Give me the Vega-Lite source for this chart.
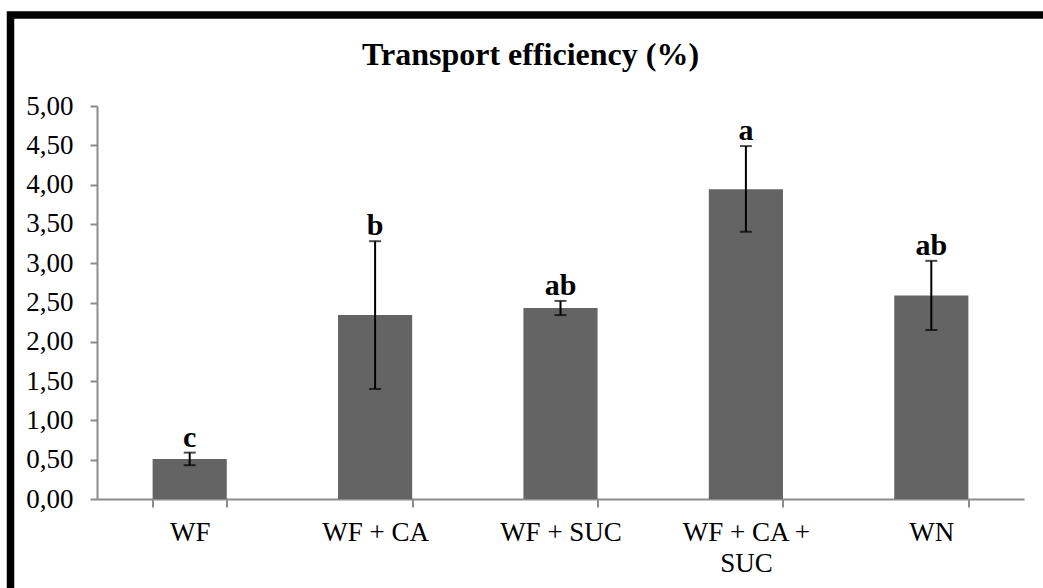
{
  "$schema": "https://vega.github.io/schema/vega-lite/v6.json",
  "width": 1040,
  "height": 580,
  "autosize": "none",
  "padding": {"left": 10.5, "top": 15, "right": 0, "bottom": 0},
  "background": "white",
  "config": {
    "view": {"stroke": "black", "strokeWidth": 7.5},
    "font": "Liberation Serif"
  },
  "title": {
    "text": "Transport efficiency (%)",
    "font": "Liberation Serif",
    "fontSize": 32,
    "fontWeight": "bold",
    "color": "black",
    "anchor": "middle",
    "frame": "group",
    "baseline": "alphabetic",
    "offset": -82
  },
  "data": {
    "values": [
      {"treatment": "WF", "mean": 0.51, "lo": 0.43, "hi": 0.59, "letter": "c"},
      {"treatment": "WF + CA", "mean": 2.34, "lo": 1.40, "hi": 3.28, "letter": "b"},
      {"treatment": "WF + SUC", "mean": 2.43, "lo": 2.34, "hi": 2.52, "letter": "ab"},
      {"treatment": "WF + CA + SUC", "mean": 3.94, "lo": 3.40, "hi": 4.49, "letter": "a"},
      {"treatment": "WN", "mean": 2.59, "lo": 2.15, "hi": 3.03, "letter": "ab"}
    ]
  },
  "encoding": {
    "x": {
      "field": "treatment",
      "type": "nominal",
      "sort": ["WF", "WF + CA", "WF + SUC", "WF + CA + SUC", "WN"],
      "title": null,
      "scale": {"range": [86.5, 1013.5], "paddingInner": 0.6, "paddingOuter": 0.3},
      "axis": {
        "offset": -96,
        "tickBand": "extent",
        "labelAngle": 0,
        "labelExpr": "datum.label == 'WF + CA + SUC' ? ['WF + CA +', 'SUC'] : datum.label",
        "labelFont": "Liberation Serif",
        "labelFontSize": 27,
        "labelColor": "black",
        "labelPadding": 12,
        "labelLineHeight": 31,
        "domainColor": "#8c8c8c",
        "domainWidth": 2,
        "tickColor": "#8c8c8c",
        "tickWidth": 2,
        "tickSize": 8,
        "grid": false
      }
    }
  },
  "layer": [
    {
      "mark": {"type": "bar", "color": "#646464"},
      "encoding": {
        "y": {
          "field": "mean",
          "type": "quantitative",
          "title": null,
          "scale": {"domain": [0, 5], "range": [484, 91], "nice": false, "zero": true},
          "axis": {
            "offset": -86.5,
            "values": [0, 0.5, 1, 1.5, 2, 2.5, 3, 3.5, 4, 4.5, 5],
            "labelExpr": "replace(format(datum.value, '.2f'), '.', ',')",
            "labelFont": "Liberation Serif",
            "labelFontSize": 27,
            "labelColor": "black",
            "labelPadding": 17,
            "domainColor": "#8c8c8c",
            "domainWidth": 2,
            "tickColor": "#8c8c8c",
            "tickWidth": 2,
            "tickSize": 7,
            "grid": false
          }
        }
      }
    },
    {
      "mark": {"type": "rule", "color": "black", "strokeWidth": 2},
      "encoding": {
        "y": {"field": "lo", "type": "quantitative", "title": null},
        "y2": {"field": "hi"}
      }
    },
    {
      "mark": {"type": "tick", "color": "black", "thickness": 2, "size": 12},
      "encoding": {"y": {"field": "lo", "type": "quantitative", "title": null}}
    },
    {
      "mark": {"type": "tick", "color": "black", "thickness": 2, "size": 12},
      "encoding": {"y": {"field": "hi", "type": "quantitative", "title": null}}
    },
    {
      "mark": {"type": "text", "font": "Liberation Serif", "fontSize": 30, "fontWeight": "bold", "color": "black", "baseline": "alphabetic", "dy": -6},
      "encoding": {
        "y": {"field": "hi", "type": "quantitative", "title": null},
        "text": {"field": "letter"}
      }
    }
  ]
}
